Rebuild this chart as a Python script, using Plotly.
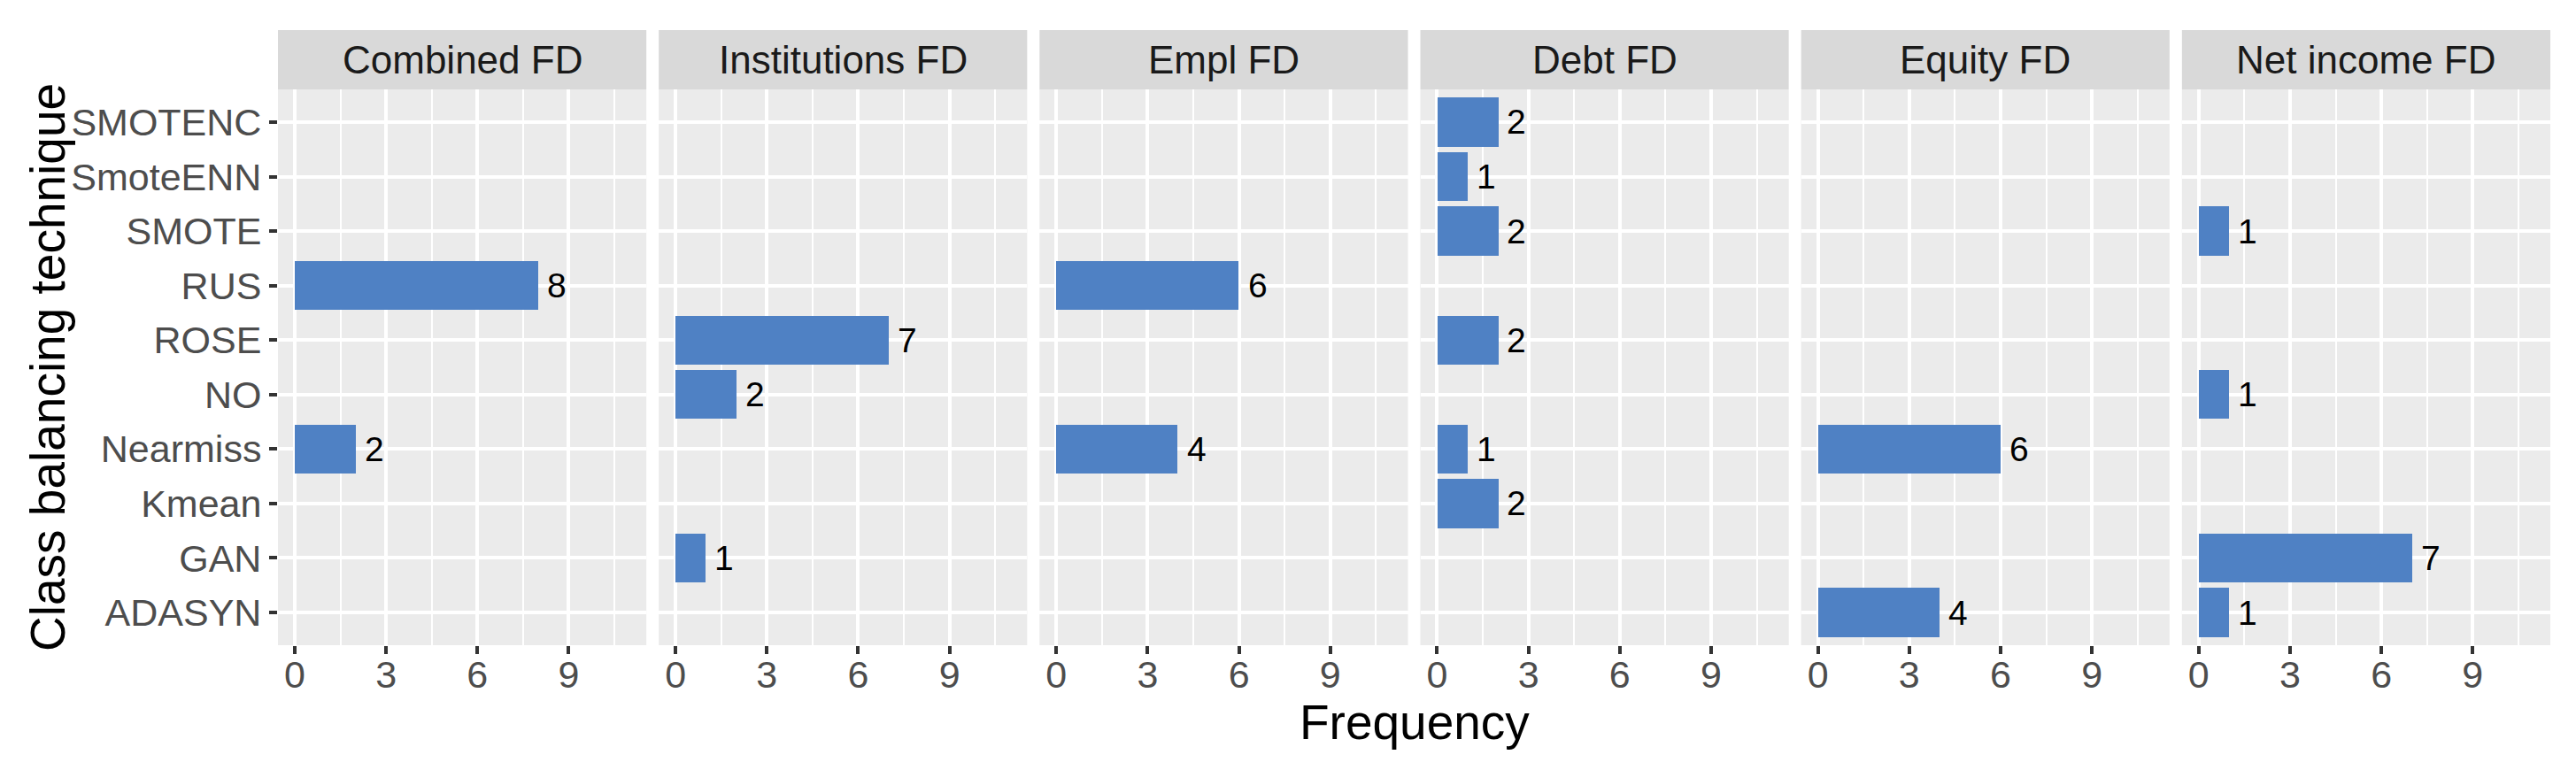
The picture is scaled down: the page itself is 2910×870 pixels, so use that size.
import plotly.graph_objects as go

categories = ["ADASYN", "GAN", "Kmean", "Nearmiss", "NO", "ROSE", "RUS", "SMOTE", "SmoteENN", "SMOTENC"]
facets = ["Combined FD", "Institutions FD", "Empl FD", "Debt FD", "Equity FD", "Net income FD"]

combined_fd     = [0, 0, 0, 2, 0, 0, 8, 0, 0, 0]
institutions_fd = [0, 1, 0, 0, 2, 7, 0, 0, 0, 0]
empl_fd         = [0, 0, 0, 4, 0, 0, 6, 0, 0, 0]
debt_fd         = [0, 0, 2, 1, 0, 2, 0, 2, 1, 2]
equity_fd       = [4, 0, 0, 6, 0, 0, 0, 0, 0, 0]
net_income_fd   = [1, 7, 0, 0, 1, 0, 0, 1, 0, 0]
series = [combined_fd, institutions_fd, empl_fd, debt_fd, equity_fd, net_income_fd]

x_ticks = [0, 3, 6, 9]
x_minor = [1.5, 4.5, 7.5, 10.5]

W, H = 2910, 870
ML, MR, MT, MB = 314, 29, 34, 141
PW = W - ML - MR
PH = H - MT - MB
GAP = 14
panel_w = (PW - 5 * GAP) / 6
strip_h = 67
ydom_top = (PH - strip_h) / PH

FONT = "Liberation Sans"
BAR = "#4F81C4"

fig = go.Figure()
annotations = []
shapes = []
for i, (name, vals) in enumerate(zip(facets, series)):
    ax = "" if i == 0 else str(i + 1)
    xs = [v for v in vals if v > 0]
    ys = [c for c, v in zip(categories, vals) if v > 0]
    fig.add_trace(go.Bar(
        x=xs, y=ys, orientation="h", width=0.9,
        marker=dict(color=BAR, line=dict(width=0)),
        xaxis="x" + ax, yaxis="y" + ax, showlegend=False, hoverinfo="x+y",
    ))
    for xv, yv in zip(xs, ys):
        annotations.append(dict(
            x=xv, y=yv, xref="x" + ax, yref="y" + ax, text=str(xv),
            showarrow=False, xanchor="left", yanchor="middle", xshift=8,
            font=dict(family=FONT, size=39, color="black"),
        ))
    x0 = i * (panel_w + GAP) / PW
    x1 = (i * (panel_w + GAP) + panel_w) / PW
    fig.layout["xaxis" + ax] = dict(
        domain=[x0, x1], range=[-0.55, 11.55], anchor="y" + ax,
        tickmode="array", tickvals=x_ticks, ticktext=[str(t) for t in x_ticks],
        ticks="outside", ticklen=9, tickwidth=4, tickcolor="#333333",
        tickfont=dict(family=FONT, size=43, color="#4D4D4D"),
        ticklabelstandoff=-14,
        showgrid=True, gridcolor="white", gridwidth=4, zeroline=False,
        showline=False, fixedrange=True,
        minor=dict(tickvals=x_minor, showgrid=True, gridcolor="white", gridwidth=2, ticks=""),
    )
    yax = dict(
        domain=[0, ydom_top], range=[-0.6, 9.6], anchor="x" + ax,
        type="category", categoryorder="array", categoryarray=categories,
        showgrid=True, gridcolor="white", gridwidth=4, zeroline=False,
        showline=False, fixedrange=True,
    )
    if i == 0:
        yax.update(ticks="outside", ticklen=9, tickwidth=4, tickcolor="#333333",
                   showticklabels=True,
                   tickfont=dict(family=FONT, size=43, color="#4D4D4D"))
    else:
        yax.update(ticks="", showticklabels=False, matches="y")
    fig.layout["yaxis" + ax] = yax
    shapes.append(dict(type="rect", xref="paper", yref="paper",
                       x0=x0, x1=x1, y0=ydom_top, y1=1.0,
                       fillcolor="#D9D9D9", line=dict(width=0), layer="below"))
    annotations.append(dict(
        x=(x0 + x1) / 2, y=(ydom_top + 1) / 2, xref="paper", yref="paper",
        text=name, showarrow=False, xanchor="center", yanchor="middle",
        font=dict(family=FONT, size=44, color="#1A1A1A"),
    ))

# axis titles
annotations.append(dict(
    x=0.5, y=(PH - (816 - MT)) / PH, xref="paper", yref="paper",
    text="Frequency", showarrow=False, xanchor="center", yanchor="middle",
    font=dict(family=FONT, size=55, color="black"),
))
annotations.append(dict(
    x=(54 - ML) / PW, y=(PH - (415 - MT)) / PH, xref="paper", yref="paper",
    text="Class balancing technique", showarrow=False, textangle=-90,
    xanchor="center", yanchor="middle",
    font=dict(family=FONT, size=55, color="black"),
))

fig.update_layout(
    width=W, height=H,
    margin=dict(l=ML, r=MR, t=MT, b=MB, pad=0),
    paper_bgcolor="white", plot_bgcolor="#EBEBEB",
    annotations=annotations, shapes=shapes,
    bargap=0, showlegend=False,
    font=dict(family=FONT),
)

fig.write_html(
    "out.html",
    config={"displayModeBar": False},
    post_script="document.body.style.margin='0px';document.body.style.padding='0px';document.body.style.overflow='hidden';",
)
